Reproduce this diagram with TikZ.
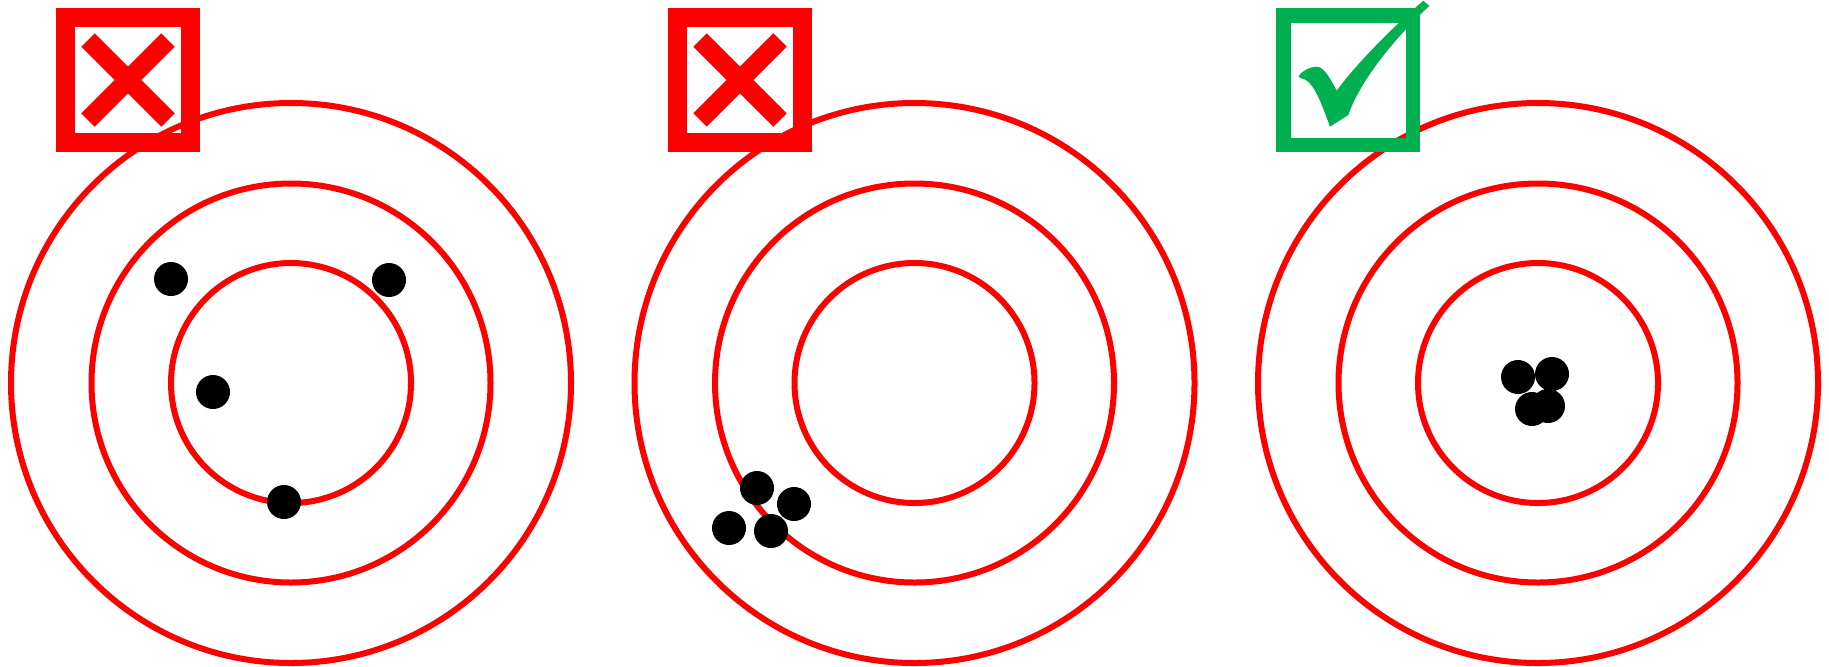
\documentclass[tikz,border=0pt]{standalone}
\usepackage{tikz}

\definecolor{okgreen}{HTML}{00B050}

\begin{document}
\begin{tikzpicture}[x=0.5pt,y=-0.5pt,
		ring/.style={red,line width=3pt},
		shot/.style={fill=black},
		redbox/.style={red,line width=9.5pt},
		greenbox/.style={okgreen,line width=7.25pt}]
			\useasboundingbox (0,0) rectangle (1829,666);
			% the three targets
			\foreach \cx in {291,914.5,1538}{
				\draw[ring] (\cx,383) circle[radius=280];
				\draw[ring] (\cx,383) circle[radius=199.5];
				\draw[ring] (\cx,383) circle[radius=120];
			}
			% shots: spread out
			\fill[shot] (171,279) circle[radius=17]
					(389,280) circle[radius=17]
					(213,392) circle[radius=17]
					(284,502) circle[radius=17];
			% shots: grouped, off centre
			\fill[shot] (757,488) circle[radius=17]
					(794,504) circle[radius=17]
					(729,528) circle[radius=17]
					(771,531) circle[radius=17];
			% shots: grouped, in centre
			\fill[shot] (1518,377) circle[radius=17]
					(1552,374) circle[radius=17]
					(1548,406) circle[radius=17]
					(1532,409) circle[radius=17];
			% crossed boxes
			\foreach \bx in {128,740}{
				\draw[redbox] (\bx-62.5,17.5) rectangle (\bx+62.5,142.5);
				\draw[redbox] (\bx-40,40) -- (\bx+40,120)
						(\bx+40,40) -- (\bx-40,120);
			}
			% ticked box
			\draw[greenbox] (1283.25,15.25) rectangle (1412.75,144.75);
			\fill[okgreen] (1298.5,76)
					.. controls (1302,71) and (1310,66.5) .. (1316.7,66.7)
					.. controls (1324,67) and (1330,78) .. (1336.7,90.7)
					.. controls (1355,65) and (1395,25) .. (1423.3,0.7)
					-- (1429.3,6)
					.. controls (1405,28) and (1362,75) .. (1348.3,115)
					-- (1330,126.7)
					.. controls (1322,105) and (1315,85) .. (1305,79.5)
					.. controls (1301,78) and (1298.5,78) .. cycle;
		\end{tikzpicture}
\end{document}
